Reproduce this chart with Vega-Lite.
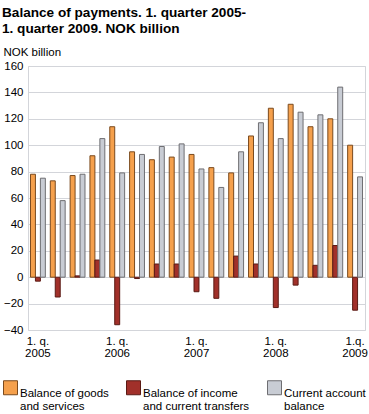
{
  "$schema": "https://vega.github.io/schema/vega-lite/v6.json",
  "autosize": "none",
  "width": 337,
  "height": 264,
  "padding": {"left": 28, "top": 66, "right": 4, "bottom": 84},
  "background": "white",
  "title": {
    "text": ["Balance of payments. 1. quarter 2005-", "1. quarter 2009. NOK billion"],
    "anchor": "start",
    "frame": "group",
    "dx": -26,
    "offset": 10,
    "fontSize": 13.6,
    "lineHeight": 16,
    "font": "Liberation Sans",
    "fontWeight": "bold",
    "color": "#000000"
  },
  "config": {
    "font": "Liberation Sans",
    "view": {"stroke": "#d3d5da", "strokeWidth": 1},
    "axis": {"gridColor": "#d3d5da", "gridOpacity": 1, "domain": false, "ticks": false, "labelColor": "#000000", "labelFont": "Liberation Sans", "labelFontSize": 11.5}
  },
  "data": {
    "values": [
      {"q": "2005Q1", "series": "Balance of goods and services", "v": 78},
      {"q": "2005Q1", "series": "Balance of income and current transfers", "v": -3},
      {"q": "2005Q1", "series": "Current account balance", "v": 75},
      {"q": "2005Q2", "series": "Balance of goods and services", "v": 73},
      {"q": "2005Q2", "series": "Balance of income and current transfers", "v": -15},
      {"q": "2005Q2", "series": "Current account balance", "v": 58},
      {"q": "2005Q3", "series": "Balance of goods and services", "v": 77},
      {"q": "2005Q3", "series": "Balance of income and current transfers", "v": 1},
      {"q": "2005Q3", "series": "Current account balance", "v": 78},
      {"q": "2005Q4", "series": "Balance of goods and services", "v": 92},
      {"q": "2005Q4", "series": "Balance of income and current transfers", "v": 13},
      {"q": "2005Q4", "series": "Current account balance", "v": 105},
      {"q": "2006Q1", "series": "Balance of goods and services", "v": 114},
      {"q": "2006Q1", "series": "Balance of income and current transfers", "v": -36},
      {"q": "2006Q1", "series": "Current account balance", "v": 79},
      {"q": "2006Q2", "series": "Balance of goods and services", "v": 95},
      {"q": "2006Q2", "series": "Balance of income and current transfers", "v": -1},
      {"q": "2006Q2", "series": "Current account balance", "v": 93},
      {"q": "2006Q3", "series": "Balance of goods and services", "v": 89},
      {"q": "2006Q3", "series": "Balance of income and current transfers", "v": 10},
      {"q": "2006Q3", "series": "Current account balance", "v": 99},
      {"q": "2006Q4", "series": "Balance of goods and services", "v": 91},
      {"q": "2006Q4", "series": "Balance of income and current transfers", "v": 10},
      {"q": "2006Q4", "series": "Current account balance", "v": 101},
      {"q": "2007Q1", "series": "Balance of goods and services", "v": 93},
      {"q": "2007Q1", "series": "Balance of income and current transfers", "v": -11},
      {"q": "2007Q1", "series": "Current account balance", "v": 82},
      {"q": "2007Q2", "series": "Balance of goods and services", "v": 83},
      {"q": "2007Q2", "series": "Balance of income and current transfers", "v": -16},
      {"q": "2007Q2", "series": "Current account balance", "v": 68},
      {"q": "2007Q3", "series": "Balance of goods and services", "v": 79},
      {"q": "2007Q3", "series": "Balance of income and current transfers", "v": 16},
      {"q": "2007Q3", "series": "Current account balance", "v": 95},
      {"q": "2007Q4", "series": "Balance of goods and services", "v": 107},
      {"q": "2007Q4", "series": "Balance of income and current transfers", "v": 10},
      {"q": "2007Q4", "series": "Current account balance", "v": 117},
      {"q": "2008Q1", "series": "Balance of goods and services", "v": 128},
      {"q": "2008Q1", "series": "Balance of income and current transfers", "v": -23},
      {"q": "2008Q1", "series": "Current account balance", "v": 105},
      {"q": "2008Q2", "series": "Balance of goods and services", "v": 131},
      {"q": "2008Q2", "series": "Balance of income and current transfers", "v": -6},
      {"q": "2008Q2", "series": "Current account balance", "v": 125},
      {"q": "2008Q3", "series": "Balance of goods and services", "v": 114},
      {"q": "2008Q3", "series": "Balance of income and current transfers", "v": 9},
      {"q": "2008Q3", "series": "Current account balance", "v": 123},
      {"q": "2008Q4", "series": "Balance of goods and services", "v": 120},
      {"q": "2008Q4", "series": "Balance of income and current transfers", "v": 24},
      {"q": "2008Q4", "series": "Current account balance", "v": 144},
      {"q": "2009Q1", "series": "Balance of goods and services", "v": 100},
      {"q": "2009Q1", "series": "Balance of income and current transfers", "v": -25},
      {"q": "2009Q1", "series": "Current account balance", "v": 76}
    ]
  },
  "mark": {"type": "bar", "strokeWidth": 1},
  "encoding": {
    "x": {
      "field": "q",
      "type": "nominal",
      "sort": null,
      "scale": {"paddingInner": 0, "paddingOuter": 0},
      "axis": {
        "title": null,
        "labelAngle": 0,
        "bandPosition": 0,
        "labelPadding": 5,
        "labelBaseline": "top",
        "labelLineHeight": 12,
        "labelExpr": "slice(datum.value, 4) == 'Q1' ? [slice(datum.value,0,4) == '2009' ? '1.q.' : '1. q.', slice(datum.value, 0, 4)] : ''",
        "labelOverlap": false,
        "labelBound": false,
        "labelFlush": false
      }
    },
    "xOffset": {
      "field": "series",
      "type": "nominal",
      "scale": {"paddingInner": 0, "paddingOuter": 0.5}
    },
    "y": {
      "field": "v",
      "type": "quantitative",
      "scale": {"domain": [-40, 160], "nice": false},
      "axis": {
        "values": [-40, -20, 0, 20, 40, 60, 80, 100, 120, 140, 160],
        "labelPadding": 5,
        "title": "NOK billion",
        "titleAngle": 0,
        "titleX": -25,
        "titleY": -11,
        "titleAlign": "left",
        "titleBaseline": "alphabetic",
        "titleFontSize": 11.5,
        "titleFontWeight": "normal",
        "titleColor": "#000000"
      }
    },
    "fill": {
      "field": "series",
      "type": "nominal",
      "scale": {
        "domain": ["Balance of goods and services", "Balance of income and current transfers", "Current account balance"],
        "range": ["#f5a04c", "#a1302a", "#c8ccd4"]
      },
      "legend": {
        "title": null,
        "orient": "none",
        "legendX": -25,
        "legendY": 314,
        "direction": "horizontal",
        "columns": 3,
        "columnPadding": 15,
        "symbolType": "square",
        "symbolSize": 196,
        "symbolStrokeWidth": 1,
        "symbolOffset": 0,
        "labelFontSize": 11.5,
        "labelColor": "#000000",
        "labelOffset": 2,
        "labelLimit": 200,
        "labelBaseline": "top",
        "labelLineHeight": 12,
        "labelExpr": "datum.label == 'Balance of goods and services' ? ['Balance of goods', 'and services'] : datum.label == 'Balance of income and current transfers' ? ['Balance of income', 'and current transfers'] : ['Current account', 'balance']"
      }
    },
    "stroke": {
      "field": "series",
      "type": "nominal",
      "scale": {
        "domain": ["Balance of goods and services", "Balance of income and current transfers", "Current account balance"],
        "range": ["#7a4a1e", "#5a1a14", "#6e6e72"]
      },
      "legend": null
    }
  }
}
